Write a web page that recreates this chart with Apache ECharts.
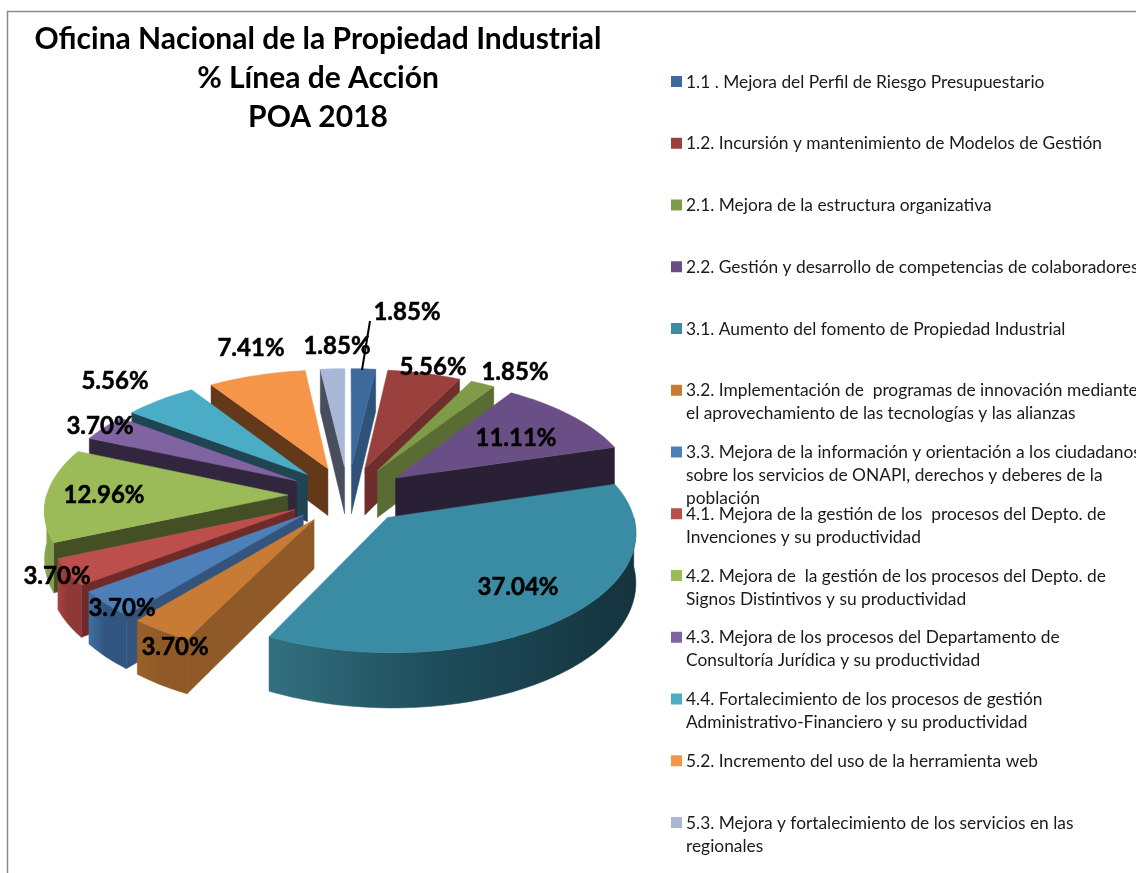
<!DOCTYPE html>
<html>
<head>
    <meta charset="utf-8" />
    <title>POA 2018</title>
    <script src="https://cdn.jsdelivr.net/npm/echarts@6/dist/echarts.min.js"></script>
    <style>
        *{
            margin:0;
            padding:0;
        }
        body{
            background:#fff;
            overflow:hidden;
        }
        #main{
            width:1136px;
            height:873px;
        }
    </style>
</head>
<body>
<div id="main"></div>
<script type="text/javascript">
    // datos del grafico, en el orden de la leyenda
    var categories = [
        '1.1 . Mejora del Perfil de Riesgo Presupuestario',
        '1.2. Incursión y mantenimiento de Modelos de Gestión',
        '2.1. Mejora de la estructura organizativa',
        '2.2. Gestión y desarrollo de competencias de colaboradores',
        '3.1. Aumento del fomento de Propiedad Industrial',
        '3.2. Implementación de  programas de innovación mediante\nel aprovechamiento de las tecnologías y las alianzas',
        '3.3. Mejora de la información y orientación a los ciudadanos\nsobre los servicios de ONAPI, derechos y deberes de la\npoblación',
        '4.1. Mejora de la gestión de los  procesos del Depto. de\nInvenciones y su productividad',
        '4.2. Mejora de  la gestión de los procesos del Depto. de\nSignos Distintivos y su productividad',
        '4.3. Mejora de los procesos del Departamento de\nConsultoría Jurídica y su productividad',
        '4.4. Fortalecimiento de los procesos de gestión\nAdministrativo-Financiero y su productividad',
        '5.2. Incremento del uso de la herramienta web',
        '5.3. Mejora y fortalecimiento de los servicios en las\nregionales'
    ];
    var values = [1.85, 5.56, 1.85, 11.11, 37.04, 3.70, 3.70, 3.70, 12.96, 3.70, 5.56, 7.41, 1.85];
    var titleLines = ['Oficina Nacional de la Propiedad Industrial', '% Línea de Acción', 'POA 2018'];

    // colores: cara superior, pared radial, pared exterior (izq -> der)
    var topColors = ['#3C6A9C', '#9A403D', '#7F9A48', '#6A4F87', '#3A8BA4', '#C77B35', '#4D7FB8', '#BC4F4B', '#9BBB59', '#8064A2', '#4BACC6', '#F4954A', '#A9B8D6'];
    var sideColors = ['#2F5279', '#6F2E2C', '#596C33', '#2A2035', '#1F4552', '#8F5A28', '#33547C', '#6F2B2A', '#454F25', '#32263F', '#1F4552', '#63391A', '#474F5E'];
    var wallFrom = ['#2F5279', '#6F2E2C', '#596C33', '#2A2035', '#33707F', '#9A6029', '#42709F', '#A8423F', '#8FA850', '#32263F', '#1F4552', '#63391A', '#474F5E'];
    var wallTo = ['#2F5279', '#6F2E2C', '#596C33', '#2A2035', '#14333D', '#8F5A28', '#2F5580', '#8F3836', '#84A04A', '#32263F', '#1F4552', '#63391A', '#474F5E'];

    // donde cae cada etiqueta de porcentaje
    var labelAt = [[407, 312], [433, 367], [515, 372], [516, 438], [518, 587], [175, 647], [122, 608], [57, 576], [104, 495], [100, 426], [115, 381], [251, 348], [337, 346]];

    // proyeccion del pastel 3D
    var CX = 348, CY = 495, RX = 241, RY = 115;
    var EXPLODE = 0.25, PERSP = 0.11, DEPTH = 48;
    var FONT = 'Lato, "Open Sans", sans-serif';

    var total = values.reduce(function (a, b) { return a + b; }, 0);
    var starts = [], ends = [], mids = [];
    var acc = 0;
    values.forEach(function (v) {
        starts.push(acc / total * 2 * Math.PI);
        acc += v;
        ends.push(acc / total * 2 * Math.PI);
        mids.push((starts[starts.length - 1] + ends[ends.length - 1]) / 2);
    });

    function project(i, th, r, down) {
        var u = Math.sin(th) * r + EXPLODE * Math.sin(mids[i]);
        var v = -Math.cos(th) * r - EXPLODE * Math.cos(mids[i]);
        var k = 1 / (1 - PERSP * v);
        return [CX + RX * u * k, CY + RY * v * k + (down ? DEPTH * k : 0)];
    }

    function arcPoints(i, a, b, down) {
        var n = Math.max(2, Math.ceil((b - a) / 0.03));
        var pts = [];
        for (var s = 0; s <= n; s++) {
            pts.push(project(i, a + (b - a) * s / n, 1, down));
        }
        return pts;
    }

    function poly(points, fill) {
        return {
            type: 'polygon',
            shape: { points: points },
            style: { fill: fill, stroke: fill, lineWidth: 0.5 }
        };
    }

    function renderSlice(params, api) {
        var i = api.value(0);
        var a = starts[i], b = ends[i];
        var kids = [];
        // paredes radiales, solo las que miran al frente
        if (Math.sin(a) < 0) {
            kids.push(poly([project(i, a, 0), project(i, a, 1), project(i, a, 1, true), project(i, a, 0, true)], sideColors[i]));
        }
        if (Math.sin(b) > 0) {
            kids.push(poly([project(i, b, 0), project(i, b, 1), project(i, b, 1, true), project(i, b, 0, true)], sideColors[i]));
        }
        // pared exterior, mitad delantera del arco
        var fa = Math.max(a, Math.PI / 2), fb = Math.min(b, Math.PI * 1.5);
        if (fb > fa) {
            var wall = arcPoints(i, fa, fb).concat(arcPoints(i, fa, fb, true).reverse());
            kids.push(poly(wall, new echarts.graphic.LinearGradient(0, 0, 1, 0, [
                { offset: 0, color: wallFrom[i] },
                { offset: 0.45, color: i === 4 ? '#1F4D5C' : wallTo[i] },
                { offset: 1, color: wallTo[i] }
            ])));
        }
        kids.push(poly([project(i, a, 0)].concat(arcPoints(i, a, b)), topColors[i]));
        return { type: 'group', children: kids };
    }

    function renderLabel(params, api) {
        var i = api.value(0);
        return {
            type: 'text',
            style: {
                text: values[i].toFixed(2) + '%',
                x: labelAt[i][0],
                y: labelAt[i][1],
                align: 'center',
                verticalAlign: 'middle',
                font: 'bold 24px ' + FONT,
                fill: '#000',
                stroke: '#000',
                lineWidth: 0.5
            }
        };
    }

    // del fondo hacia el frente
    var drawOrder = values.map(function (v, i) { return i; }).sort(function (p, q) {
        return Math.cos(mids[q]) - Math.cos(mids[p]);
    });

    var legendItems = [];
    categories.forEach(function (name, i) {
        var y = 81.5 + 61.75 * i;
        legendItems.push({
            type: 'rect',
            shape: { x: 671, y: y - 5.5, width: 11, height: 11 },
            style: { fill: topColors[i] }
        });
        legendItems.push({
            type: 'text',
            style: {
                text: name,
                x: 686,
                y: y - 11,
                font: '17.35px ' + FONT,
                lineHeight: 23,
                fill: '#1a1a1a'
            }
        });
    });

    var myChart = echarts.init(document.getElementById('main'), null, { renderer: 'canvas' });

    var option = {
        animation: false,
        title: {
            text: titleLines.join('\n'),
            left: 313,
            top: 15,
            textAlign: 'center',
            textStyle: {
                fontFamily: FONT,
                fontWeight: 'bold',
                fontSize: 30,
                lineHeight: 39,
                color: '#000'
            }
        },
        graphic: [
            {
                type: 'rect',
                shape: { x: 7.5, y: 11.5, width: 1400, height: 1200 },
                style: { fill: 'none', stroke: '#8a8a8a', lineWidth: 1.5 }
            },
            {
                type: 'line',
                z: 20,
                shape: { x1: 370, y1: 321, x2: 362, y2: 370 },
                style: { stroke: '#000', lineWidth: 2 }
            }
        ].concat(legendItems),
        series: [
            {
                type: 'custom',
                name: 'Línea de Acción',
                coordinateSystem: 'none',
                silent: true,
                renderItem: renderSlice,
                data: drawOrder.map(function (i) { return [i]; }),
                z: 2
            },
            {
                type: 'custom',
                name: 'Porcentaje',
                coordinateSystem: 'none',
                silent: true,
                renderItem: renderLabel,
                data: values.map(function (v, i) { return [i]; }),
                z: 30
            }
        ]
    };

    myChart.setOption(option);
</script>
</body>
</html>
